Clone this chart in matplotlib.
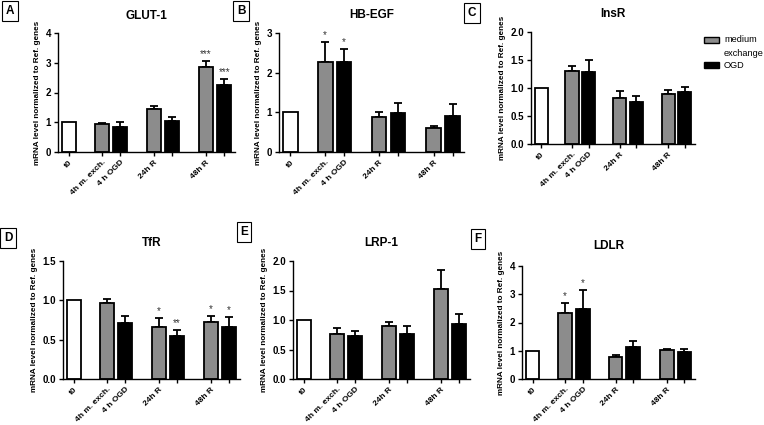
import matplotlib
matplotlib.use("Agg")
import matplotlib.pyplot as plt
from matplotlib.patches import Rectangle

plt.rcParams['font.family'] = ['Liberation Sans', 'DejaVu Sans']
plt.rcParams['font.weight'] = 'bold'

W, H = 764, 425

# bar order: t0, 4h medium exch., 4h OGD, 24h R (medium), 24h R (OGD), 48h R (medium), 48h R (OGD)
tick_labels = ["t0", "4h m. exch.", "4 h OGD", "24h R", "", "48h R", ""]
kinds = ["t0", "med", "ogd", "med", "ogd", "med", "ogd"]

titles = ["GLUT-1", "HB-EGF", "InsR", "TfR", "LRP-1", "LDLR"]
letters = ["A", "B", "C", "D", "E", "F"]

glut1 = [1.0, 0.95, 0.84, 1.43, 1.05, 2.87, 2.24]
glut1_err = [0.0, 0.04, 0.17, 0.11, 0.11, 0.2, 0.23]
glut1_stars = ["", "", "", "", "", "***", "***"]

hbegf = [1.0, 2.28, 2.28, 0.89, 0.99, 0.61, 0.9]
hbegf_err = [0.0, 0.49, 0.32, 0.11, 0.25, 0.04, 0.31]
hbegf_stars = ["", "*", "*", "", "", "", ""]

insr = [1.0, 1.31, 1.28, 0.82, 0.75, 0.89, 0.93]
insr_err = [0.0, 0.09, 0.22, 0.13, 0.1, 0.08, 0.08]
insr_stars = ["", "", "", "", "", "", ""]

tfr = [1.0, 0.96, 0.71, 0.665, 0.55, 0.72, 0.66]
tfr_err = [0.0, 0.06, 0.09, 0.115, 0.07, 0.08, 0.13]
tfr_stars = ["", "", "", "*", "**", "*", "*"]

lrp1 = [1.0, 0.76, 0.73, 0.89, 0.77, 1.52, 0.93]
lrp1_err = [0.0, 0.1, 0.09, 0.08, 0.13, 0.33, 0.17]
lrp1_stars = ["", "", "", "", "", "", ""]

ldlr = [1.0, 2.34, 2.48, 0.78, 1.12, 1.01, 0.94]
ldlr_err = [0.0, 0.35, 0.67, 0.08, 0.23, 0.05, 0.13]
ldlr_stars = ["", "*", "*", "", "", "", ""]

values = [glut1, hbegf, insr, tfr, lrp1, ldlr]
errors = [glut1_err, hbegf_err, insr_err, tfr_err, lrp1_err, ldlr_err]
stars = [glut1_stars, hbegf_stars, insr_stars, tfr_stars, lrp1_stars, ldlr_stars]
ymax = [4, 3, 2.0, 1.5, 2.0, 4]
ystep = [1, 1, 0.5, 0.5, 0.5, 1]
yfmt = ["%d", "%d", "%.1f", "%.1f", "%.1f", "%d"]

xpos = [0, 1.85, 2.85, 4.7, 5.7, 7.6, 8.6]
colors = {"t0": "white", "med": "#8c8c8c", "ogd": "black"}

# axes boxes in pixels: left, right, top, bottom
boxes = [(58, 235, 33, 152), (279, 464, 33, 152), (531, 695, 32, 144),
         (63, 240, 261, 379), (293, 470, 261, 379), (522, 695, 266, 379)]
letter_pos = [(10, 11), (241, 11), (472, 13), (8, 238), (244, 232), (478, 239)]
title_pad = [10, 11, 11, 11, 11, 12]

fig = plt.figure(figsize=(W / 100, H / 100), dpi=100)

for i in range(6):
    l, r, t, b = boxes[i]
    ax = fig.add_axes([l / W, 1 - b / H, (r - l) / W, (b - t) / H])
    for j in range(7):
        ax.bar(xpos[j], values[i][j], width=0.78, color=colors[kinds[j]],
               edgecolor="black", linewidth=1.3, zorder=2)
        if errors[i][j] > 0:
            ax.errorbar(xpos[j], values[i][j], yerr=[[0], [errors[i][j]]],
                        fmt="none", ecolor="black", elinewidth=1.3,
                        capsize=3, capthick=1.3, zorder=1)
        if stars[i][j]:
            ax.text(xpos[j], values[i][j] + errors[i][j] + ymax[i] * 0.015,
                    stars[i][j], ha="center", va="bottom", fontsize=7,
                    fontweight="normal", color="#333333")
    ax.set_xlim(-0.6, 9.2)
    ax.set_ylim(0, ymax[i])
    n = int(round(ymax[i] / ystep[i]))
    yt = [k * ystep[i] for k in range(n + 1)]
    ax.set_yticks(yt)
    ax.set_yticklabels([yfmt[i] % v for v in yt], fontsize=7)
    ax.set_xticks(xpos)
    ax.set_xticklabels(tick_labels, rotation=45, ha="right",
                       rotation_mode="anchor", fontsize=6)
    ax.tick_params(length=3, width=1, pad=2)
    ax.spines["top"].set_visible(False)
    ax.spines["right"].set_visible(False)
    ax.spines["left"].set_linewidth(1)
    ax.spines["bottom"].set_linewidth(1)
    ax.set_title(titles[i], fontsize=8.5, fontweight="bold", pad=title_pad[i])
    ax.set_ylabel("mRNA level normalized to Ref. genes", fontsize=5.9,
                  fontweight="bold", labelpad=3)
    fig.text(letter_pos[i][0] / W, 1 - letter_pos[i][1] / H, letters[i],
             fontsize=8.5, fontweight="bold", ha="center", va="center",
             bbox=dict(boxstyle="square,pad=0.3", fc="white", ec="black", lw=0.8))

# legend drawn as figure patches + text
leg_labels = ["medium", "exchange", "OGD"]
fig.patches.append(Rectangle((704 / W, 1 - 43 / H), 15 / W, 6 / H, transform=fig.transFigure,
                             facecolor=colors["med"], edgecolor="black", lw=1))
fig.patches.append(Rectangle((704 / W, 1 - 68 / H), 15 / W, 6 / H, transform=fig.transFigure,
                             facecolor=colors["ogd"], edgecolor="black", lw=1))
fig.text(724 / W, 1 - 40 / H, leg_labels[0], fontsize=6.6, fontweight="normal", va="center")
fig.text(724 / W, 1 - 53 / H, leg_labels[1], fontsize=6.6, fontweight="normal", va="center")
fig.text(724 / W, 1 - 65 / H, leg_labels[2], fontsize=6.6, fontweight="normal", va="center")

fig.savefig("out.png", dpi=100)
